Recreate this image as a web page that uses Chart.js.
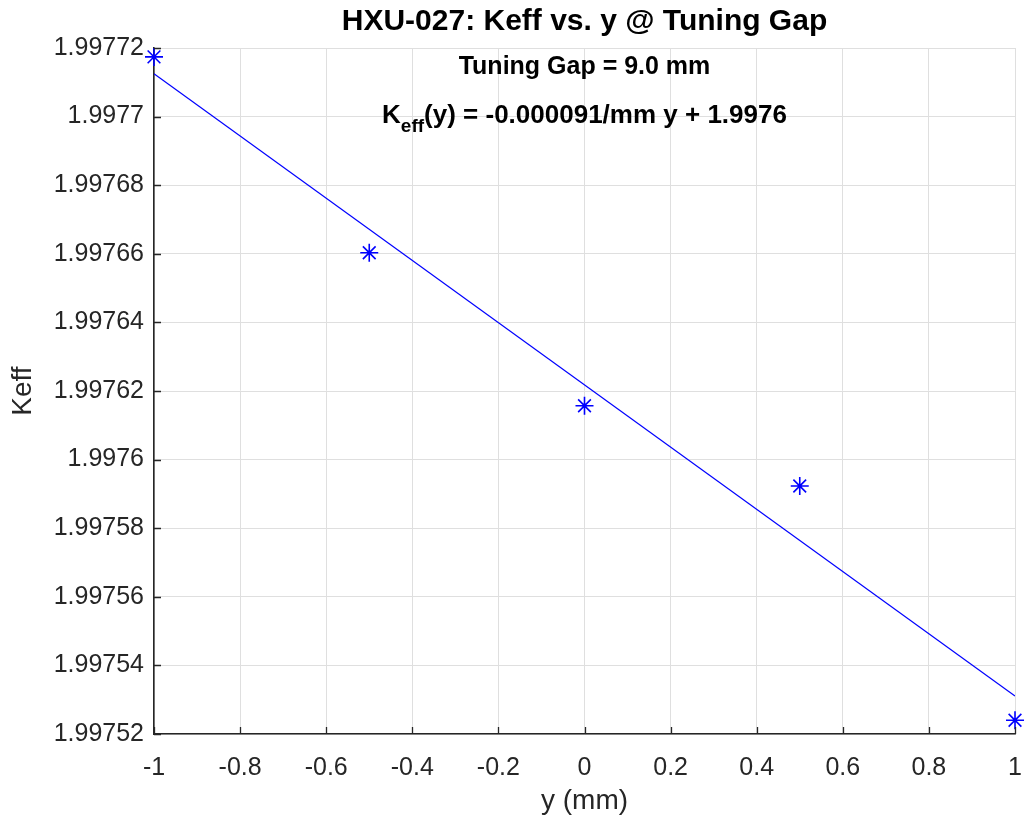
<!DOCTYPE html>
<html>
<head>
<meta charset="utf-8">
<script src="https://cdn.jsdelivr.net/npm/chart.js@4.4.1/dist/chart.umd.min.js"></script>
<style>
  html, body { margin: 0; padding: 0; background: #ffffff; }
  #wrap { width: 1026px; height: 827px; position: relative; }
</style>
</head>
<body>
<div id="wrap"><canvas id="c" width="1026" height="827"></canvas></div>
<script>
// ---- data ----
const yPositions = [-1, -0.5, 0, 0.5, 1];                               // y (mm)
const keffValues = [1.9977174, 1.9976603, 1.9976157, 1.9975923, 1.9975240];
const fitX = [-1, 1];                                                    // fitted line end points
const fitKeff = [1.9977125, 1.9975311];
const xTickValues = [-1, -0.8, -0.6, -0.4, -0.2, 0, 0.2, 0.4, 0.6, 0.8, 1];
const xTickLabels = ['-1', '-0.8', '-0.6', '-0.4', '-0.2', '0', '0.2', '0.4', '0.6', '0.8', '1'];
const yTickValues = [1.99752, 1.99754, 1.99756, 1.99758, 1.9976, 1.99762, 1.99764, 1.99766, 1.99768, 1.9977, 1.99772];
const yTickLabels = ['1.99752', '1.99754', '1.99756', '1.99758', '1.9976', '1.99762', '1.99764', '1.99766', '1.99768', '1.9977', '1.99772'];
const titleText = 'HXU-027: Keff vs. y @ Tuning Gap';
const gapText = 'Tuning Gap = 9.0 mm';
const eqMain = 'K', eqSub = 'eff', eqRest = '(y) = -0.000091/mm y + 1.9976';
const xAxisLabel = 'y (mm)';
const yAxisLabel = 'Keff';

const FONT = '"Liberation Sans", Arial, Helvetica, sans-serif';
const AXIS_COLOR = '#262626';
const GRID_COLOR = '#dfdfdf';

const overlay = {
  id: 'overlay',
  afterDraw(chart) {
    const ctx = chart.ctx;
    const xs = chart.scales.x, ys = chart.scales.y;
    const area = chart.chartArea;
    ctx.save();
    // inward tick marks
    ctx.strokeStyle = AXIS_COLOR;
    ctx.lineWidth = 1.3;
    ctx.beginPath();
    xTickValues.forEach(v => {
      const px = Math.round(xs.getPixelForValue(v)) + 0.5;
      ctx.moveTo(px, area.bottom);
      ctx.lineTo(px, area.bottom - 7);
    });
    yTickValues.forEach(v => {
      const py = Math.round(ys.getPixelForValue(v)) + 0.5;
      ctx.moveTo(area.left, py);
      ctx.lineTo(area.left + 7, py);
    });
    ctx.stroke();

    const cx = (area.left + area.right) / 2;
    ctx.fillStyle = '#000000';
    ctx.textBaseline = 'middle';
    ctx.textAlign = 'center';
    ctx.font = 'bold 30px ' + FONT;
    ctx.fillText(titleText, cx, 22);

    ctx.font = 'bold 25px ' + FONT;
    ctx.fillText(gapText, cx, 67);

    // equation with subscript
    const mainFont = 'bold 26px ' + FONT;
    const subFont = 'bold 19px ' + FONT;
    ctx.font = mainFont;
    const wK = ctx.measureText(eqMain).width;
    const wR = ctx.measureText(eqRest).width;
    ctx.font = subFont;
    const wS = ctx.measureText(eqSub).width;
    const total = wK + wS + wR;
    let x0 = cx - total / 2;
    const ey = 116;
    ctx.textAlign = 'left';
    ctx.font = mainFont;
    ctx.fillText(eqMain, x0, ey);
    ctx.font = subFont;
    ctx.fillText(eqSub, x0 + wK, ey + 11);
    ctx.font = mainFont;
    ctx.fillText(eqRest, x0 + wK + wS, ey);
    ctx.restore();
  }
};

new Chart(document.getElementById('c'), {
  type: 'scatter',
  data: {
    datasets: [
      {
        label: 'fit',
        data: fitX.map((x, i) => ({ x: x, y: fitKeff[i] })),
        showLine: true,
        borderColor: '#0000ff',
        borderWidth: 1.2,
        pointRadius: 0,
        pointHoverRadius: 0,
        fill: false
      },
      {
        label: 'Keff',
        data: yPositions.map((x, i) => ({ x: x, y: keffValues[i] })),
        showLine: false,
        pointStyle: 'star',
        pointRadius: 9,
        pointBorderWidth: 1.6,
        borderColor: '#0000ff',
        backgroundColor: '#0000ff',
        clip: false
      }
    ]
  },
  options: {
    responsive: false,
    animation: false,
    devicePixelRatio: 1,
    layout: { padding: { top: 48, right: 11, left: 0, bottom: 0 } },
    plugins: {
      legend: { display: false },
      title: { display: false },
      tooltip: { enabled: false }
    },
    scales: {
      x: {
        type: 'linear',
        min: -1,
        max: 1,
        afterBuildTicks: s => { s.ticks = xTickValues.map(v => ({ value: v })); },
        afterFit: s => { s.height = 93; s.paddingLeft = 0; s.paddingRight = 0; },
        ticks: {
          color: AXIS_COLOR,
          font: { family: FONT, size: 25 },
          padding: 19,
          maxRotation: 0,
          autoSkip: false,
          callback: (v, i) => xTickLabels[i]
        },
        grid: { color: GRID_COLOR, lineWidth: 1, drawTicks: false },
        border: { display: true, color: AXIS_COLOR, width: 1.6 },
        title: {
          display: true,
          text: xAxisLabel,
          color: AXIS_COLOR,
          font: { family: FONT, size: 28 },
          padding: { top: 0, bottom: 9 }
        }
      },
      y: {
        type: 'linear',
        min: 1.99752,
        max: 1.99772,
        afterBuildTicks: s => { s.ticks = yTickValues.map(v => ({ value: v })); },
        afterFit: s => { s.width = 154; s.paddingTop = 0; s.paddingBottom = 0; },
        ticks: {
          color: AXIS_COLOR,
          font: { family: FONT, size: 25 },
          padding: 10,
          autoSkip: false,
          callback: (v, i) => yTickLabels[i]
        },
        grid: { color: GRID_COLOR, lineWidth: 1, drawTicks: false },
        border: { display: true, color: AXIS_COLOR, width: 1.6 },
        title: {
          display: true,
          text: yAxisLabel,
          color: AXIS_COLOR,
          font: { family: FONT, size: 28 },
          padding: { top: 6, bottom: 0 }
        }
      }
    }
  },
  plugins: [overlay]
});
</script>
</body>
</html>
